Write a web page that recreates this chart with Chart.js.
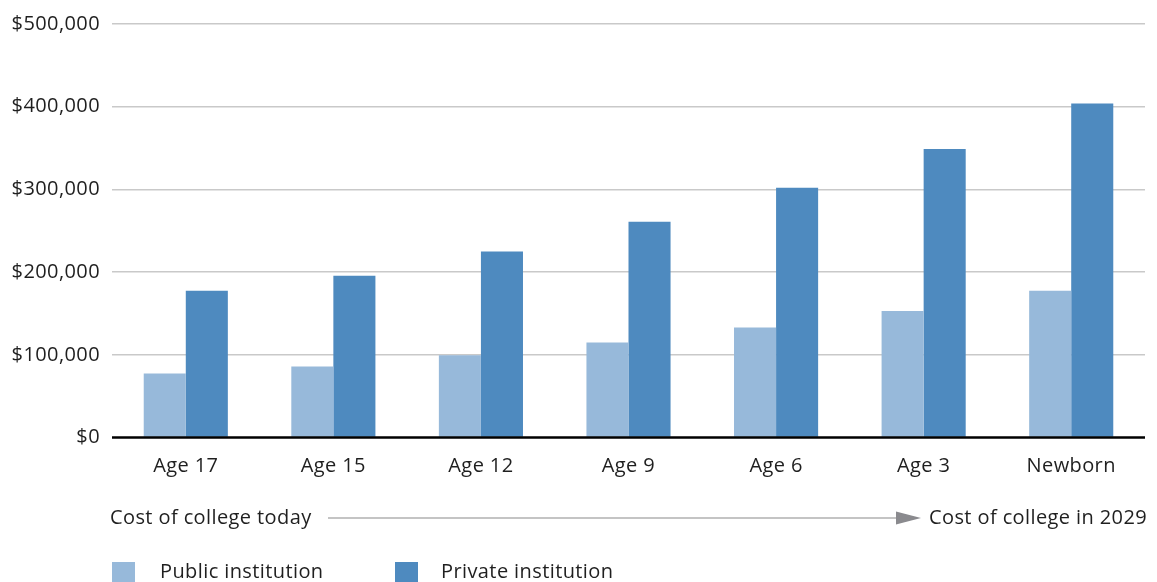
<!DOCTYPE html>
<html>
<head>
<meta charset="utf-8">
<style>
  html, body { margin: 0; padding: 0; background: #ffffff; }
  #wrap { width: 1157px; height: 582px; }
</style>
<script src="https://cdn.jsdelivr.net/npm/chart.js@4/dist/chart.umd.min.js"></script>
</head>
<body>
<div id="wrap"><canvas id="c" width="1157" height="582"></canvas></div>
<script>
// Projected total cost of a four-year degree, by child's current age
const categories = ['Age 17', 'Age 15', 'Age 12', 'Age 9', 'Age 6', 'Age 3', 'Newborn'];
const publicCost = [77500, 86000, 99500, 115000, 133000, 153000, 177500];
const privateCost = [177500, 195500, 225000, 261000, 302000, 349000, 404000];
const seriesNames = ['Public institution', 'Private institution'];
const seriesColors = ['#97b9da', '#4e8abf'];
const yTicks = [0, 100000, 200000, 300000, 400000, 500000];
const timelineLabels = ['Cost of college today', 'Cost of college in 2029'];

const FONT = '"Open Sans", Lato, sans-serif';
const FSIZE = 20;
const TEXT = '#1f1f1f';

const fmtMoney = v => '$' + Number(v).toLocaleString('en-US');

// Slightly looser tracking for every label on the canvas
const tracking = {
  id: 'tracking',
  beforeDraw(chart) {
    chart.ctx.letterSpacing = '0.4px';
  }
};

// Zero baseline, timeline arrow and legend drawn on top of the plot
const extras = {
  id: 'extras',
  afterDatasetsDraw(chart) {
    const { ctx, chartArea, scales } = chart;
    const y0 = scales.y.getPixelForValue(0);
    ctx.save();
    ctx.strokeStyle = '#000000';
    ctx.lineWidth = 2.5;
    ctx.beginPath();
    ctx.moveTo(chartArea.left, y0);
    ctx.lineTo(chartArea.right, y0);
    ctx.stroke();
    ctx.restore();
  },
  afterDraw(chart) {
    const { ctx } = chart;
    ctx.save();
    ctx.font = FSIZE + 'px ' + FONT;
    ctx.fillStyle = TEXT;
    ctx.textBaseline = 'middle';

    // timeline row
    const ty = 518;
    ctx.textAlign = 'left';
    ctx.fillText(timelineLabels[0], 110, ty);
    ctx.fillText(timelineLabels[1], 929, ty);
    ctx.strokeStyle = '#8a8a8a';
    ctx.lineWidth = 1.2;
    ctx.beginPath();
    ctx.moveTo(328, ty);
    ctx.lineTo(900, ty);
    ctx.stroke();
    ctx.fillStyle = '#8a8a8e';
    ctx.beginPath();
    ctx.moveTo(896, ty - 6.5);
    ctx.lineTo(921, ty);
    ctx.lineTo(896, ty + 6.5);
    ctx.closePath();
    ctx.fill();

    // legend row
    const ly = 572;
    const items = [
      { x: 112, tx: 160 },
      { x: 395, tx: 441 }
    ];
    items.forEach((it, i) => {
      ctx.fillStyle = seriesColors[i];
      ctx.fillRect(it.x, 562, 23, 23);
      ctx.fillStyle = TEXT;
      ctx.fillText(seriesNames[i], it.tx, ly);
    });
    ctx.restore();
  }
};

new Chart(document.getElementById('c'), {
  type: 'bar',
  data: {
    labels: categories,
    datasets: [
      { label: seriesNames[0], data: publicCost, backgroundColor: seriesColors[0], borderWidth: 0 },
      { label: seriesNames[1], data: privateCost, backgroundColor: seriesColors[1], borderWidth: 0 }
    ]
  },
  options: {
    responsive: false,
    animation: false,
    devicePixelRatio: 1,
    layout: { padding: { top: 21.5, right: 12, bottom: 0, left: 0 } },
    datasets: { bar: { categoryPercentage: 0.57, barPercentage: 1.0 } },
    plugins: { legend: { display: false }, tooltip: { enabled: false } },
    scales: {
      x: {
        grid: { display: false, drawTicks: false },
        border: { display: false },
        ticks: { color: TEXT, font: { family: FONT, size: FSIZE }, padding: 17, maxRotation: 0 },
        afterFit: s => { s.height = 144.5; }
      },
      y: {
        min: 0,
        max: 500000,
        afterBuildTicks: s => { s.ticks = yTicks.map(v => ({ value: v })); },
        grid: {
          color: ctx => ctx.tick && ctx.tick.value === 0 ? 'rgba(0,0,0,0)' : '#c9c9c9',
          lineWidth: 1.5,
          drawTicks: false
        },
        border: { display: false },
        ticks: { color: TEXT, font: { family: FONT, size: FSIZE }, padding: 12, callback: v => fmtMoney(v) },
        afterFit: s => { s.width = 112; }
      }
    }
  },
  plugins: [tracking, extras]
});
</script>
</body>
</html>
